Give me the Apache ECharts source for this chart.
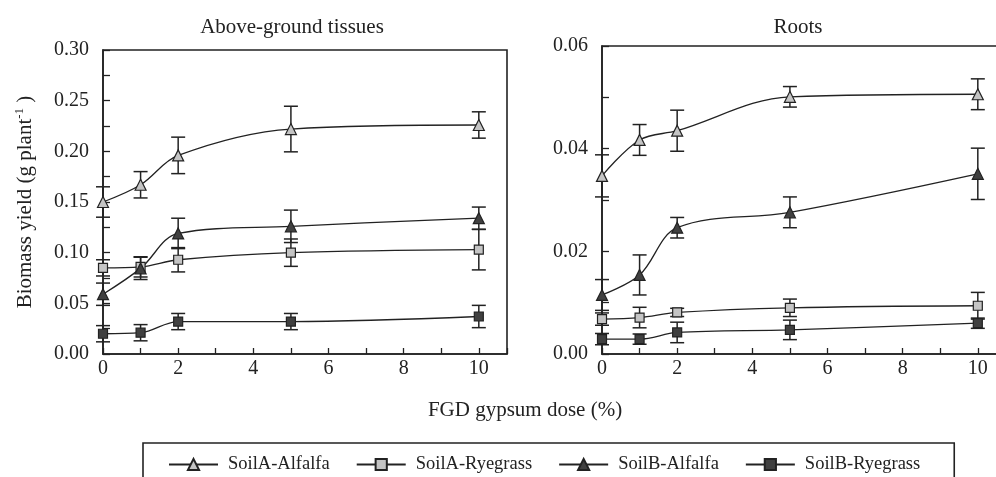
<!DOCTYPE html>
<html>
<head>
<meta charset="utf-8">
<script src="https://cdn.jsdelivr.net/npm/echarts@6/dist/echarts.min.js"></script>
<style>
  html, body { margin: 0; padding: 0; background: #fff; }
  #chart { width: 996px; height: 477px; }
</style>
</head>
<body>
<div id="chart"></div>
<script>
// FGD gypsum doses (%)
const doses = [0, 1, 2, 5, 10];
const seriesNames = ['SoilA-Alfalfa', 'SoilA-Ryegrass', 'SoilB-Alfalfa', 'SoilB-Ryegrass'];

// Above-ground tissues: mean biomass (g plant-1) and error (±)
const shootSoilAAlfalfa = [0.150, 0.167, 0.196, 0.222, 0.226];
const shootSoilAAlfalfaErr = [0.015, 0.013, 0.018, 0.0225, 0.013];
const shootSoilARyegrass = [0.085, 0.086, 0.093, 0.100, 0.103];
const shootSoilARyegrassErr = [0.008, 0.010, 0.012, 0.0135, 0.020];
const shootSoilBAlfalfa = [0.059, 0.0845, 0.119, 0.126, 0.134];
const shootSoilBAlfalfaErr = [0.011, 0.011, 0.015, 0.016, 0.011];
const shootSoilBRyegrass = [0.020, 0.021, 0.032, 0.032, 0.037];
const shootSoilBRyegrassErr = [0.008, 0.008, 0.008, 0.008, 0.011];

// Roots: mean biomass (g plant-1) and error (±)
const rootSoilAAlfalfa = [0.0347, 0.0417, 0.0435, 0.0501, 0.0506];
const rootSoilAAlfalfaErr = [0.0041, 0.003, 0.004, 0.002, 0.003];
const rootSoilARyegrass = [0.0068, 0.0071, 0.0081, 0.0090, 0.0094];
const rootSoilARyegrassErr = [0.0012, 0.002, 0.0008, 0.0017, 0.0026];
const rootSoilBAlfalfa = [0.0115, 0.0154, 0.0246, 0.0276, 0.0351];
const rootSoilBAlfalfaErr = [0.003, 0.0039, 0.002, 0.003, 0.005];
const rootSoilBRyegrass = [0.0029, 0.0029, 0.0042, 0.0047, 0.0060];
const rootSoilBRyegrassErr = [0.0011, 0.001, 0.002, 0.0019, 0.001];

// Tick label steps
const xLabelStep = 2;
const shootLabelStep = 0.05;
const rootLabelStep = 0.02;

const FONT = '"Liberation Serif", "DejaVu Serif", serif';
const INK = '#222';
const LIGHT = '#c4c4c4';
const DARK = '#404040';

const markerStyle = {
  'SoilA-Alfalfa':  { symbol: 'triangle', size: 11, fill: LIGHT },
  'SoilA-Ryegrass': { symbol: 'rect',     size: 9,  fill: LIGHT },
  'SoilB-Alfalfa':  { symbol: 'triangle', size: 11, fill: DARK },
  'SoilB-Ryegrass': { symbol: 'rect',     size: 9,  fill: DARK }
};

function onStep(v, step) {
  return Math.abs(Math.round(v / step) * step - v) < 1e-9;
}

function lineSeries(name, axis, values) {
  const m = markerStyle[name];
  return {
    name: name,
    type: 'line',
    xAxisIndex: axis,
    yAxisIndex: axis,
    data: doses.map((d, i) => [d, values[i]]),
    smooth: 0.35,
    symbol: m.symbol,
    symbolSize: m.size,
    showSymbol: true,
    itemStyle: { color: m.fill, borderColor: INK, borderWidth: 1.2 },
    lineStyle: { color: INK, width: 1.3 },
    emphasis: { disabled: true },
    animation: false,
    z: 4
  };
}

function errorSeries(axis, values, errs) {
  return {
    type: 'custom',
    xAxisIndex: axis,
    yAxisIndex: axis,
    data: doses.map((d, i) => [d, values[i] - errs[i], values[i] + errs[i]]),
    encode: { x: 0, y: [1, 2] },
    clip: false,
    silent: true,
    animation: false,
    z: 3,
    renderItem: function (params, api) {
      const x = api.value(0);
      const lo = api.coord([x, api.value(1)]);
      const hi = api.coord([x, api.value(2)]);
      const w = 7;
      const style = { stroke: INK, lineWidth: 1.5 };
      return {
        type: 'group',
        children: [
          { type: 'line', shape: { x1: hi[0], y1: hi[1], x2: lo[0], y2: lo[1] }, style: style },
          { type: 'line', shape: { x1: hi[0] - w, y1: hi[1], x2: hi[0] + w, y2: hi[1] }, style: style },
          { type: 'line', shape: { x1: lo[0] - w, y1: lo[1], x2: lo[0] + w, y2: lo[1] }, style: style }
        ]
      };
    }
  };
}

function xAxis(gridIndex) {
  return {
    type: 'value',
    gridIndex: gridIndex,
    min: 0,
    max: 10.75,
    interval: 1,
    axisLine: { onZero: false, lineStyle: { color: INK, width: 1.6 } },
    axisTick: { inside: true, length: 6, lineStyle: { color: INK, width: 1.3 } },
    axisLabel: {
      margin: 5,
      color: INK,
      fontFamily: FONT,
      fontSize: 20,
      formatter: v => (onStep(v, xLabelStep) ? String(Math.round(v)) : '')
    },
    splitLine: { show: false }
  };
}

function yAxis(gridIndex, max, tickStep, labelStep, digits, nameOpt) {
  return Object.assign({
    type: 'value',
    gridIndex: gridIndex,
    min: 0,
    max: max,
    interval: tickStep,
    axisLine: { onZero: false, lineStyle: { color: INK, width: 1.6 } },
    axisTick: { inside: true, length: 7, lineStyle: { color: INK, width: 1.3 } },
    axisLabel: {
      margin: 14,
      color: INK,
      fontFamily: FONT,
      fontSize: 20,
      formatter: v => (onStep(v, labelStep) ? v.toFixed(digits) : '')
    },
    splitLine: { show: false }
  }, nameOpt || {});
}

const shootSeries = [
  [shootSoilAAlfalfa, shootSoilAAlfalfaErr],
  [shootSoilARyegrass, shootSoilARyegrassErr],
  [shootSoilBAlfalfa, shootSoilBAlfalfaErr],
  [shootSoilBRyegrass, shootSoilBRyegrassErr]
];
const rootSeries = [
  [rootSoilAAlfalfa, rootSoilAAlfalfaErr],
  [rootSoilARyegrass, rootSoilARyegrassErr],
  [rootSoilBAlfalfa, rootSoilBAlfalfaErr],
  [rootSoilBRyegrass, rootSoilBRyegrassErr]
];

const series = [];
shootSeries.forEach(s => series.push(errorSeries(0, s[0], s[1])));
rootSeries.forEach(s => series.push(errorSeries(1, s[0], s[1])));
shootSeries.forEach((s, i) => series.push(lineSeries(seriesNames[i], 0, s[0])));
rootSeries.forEach((s, i) => series.push(lineSeries(seriesNames[i], 1, s[0])));

const gridBase = {
  show: true,
  borderColor: INK,
  borderWidth: 1.6,
  backgroundColor: 'transparent',
  containLabel: false,
  outerBoundsMode: 'none'
};

const chart = echarts.init(document.getElementById('chart'), null, { renderer: 'canvas' });
chart.setOption({
  animation: false,
  backgroundColor: '#fff',
  textStyle: { fontFamily: FONT, color: INK },
  title: [
    { text: 'Above-ground tissues', left: 287, top: 12, textAlign: 'center',
      textStyle: { fontFamily: FONT, fontSize: 21, fontWeight: 'normal', color: INK } },
    { text: 'Roots', left: 793, top: 12, textAlign: 'center',
      textStyle: { fontFamily: FONT, fontSize: 21, fontWeight: 'normal', color: INK } }
  ],
  grid: [
    Object.assign({ left: 103, top: 50, width: 404, height: 304 }, gridBase),
    Object.assign({ left: 602, top: 46, width: 404, height: 308 }, gridBase)
  ],
  xAxis: [xAxis(0), xAxis(1)],
  yAxis: [
    yAxis(0, 0.30, 0.025, shootLabelStep, 2, {
      name: '{n|Biomass yield (g plant}{s|-1}{n| )}',
      nameLocation: 'middle',
      nameGap: 66,
      nameTextStyle: {
        rich: {
          n: { fontFamily: FONT, fontSize: 21, color: INK, lineHeight: 24 },
          s: { fontFamily: FONT, fontSize: 13, color: INK, verticalAlign: 'top', lineHeight: 24 }
        }
      }
    }),
    yAxis(1, 0.06, 0.01, rootLabelStep, 2)
  ],
  legend: {
    data: seriesNames,
    left: 143,
    top: 443,
    orient: 'horizontal',
    borderColor: INK,
    borderWidth: 1.6,
    padding: [12, 34, 40, 25],
    itemGap: 26,
    itemWidth: 49,
    itemHeight: 14,
    selectedMode: false,
    textStyle: { fontFamily: FONT, fontSize: 18.5, color: INK, padding: [0, 0, 0, 5] }
  },
  graphic: [
    {
      type: 'text',
      x: 525,
      y: 410,
      style: {
        text: 'FGD gypsum dose (%)',
        align: 'center',
        verticalAlign: 'middle',
        font: '21px ' + FONT,
        fill: INK
      }
    }
  ],
  series: series
});
</script>
</body>
</html>
